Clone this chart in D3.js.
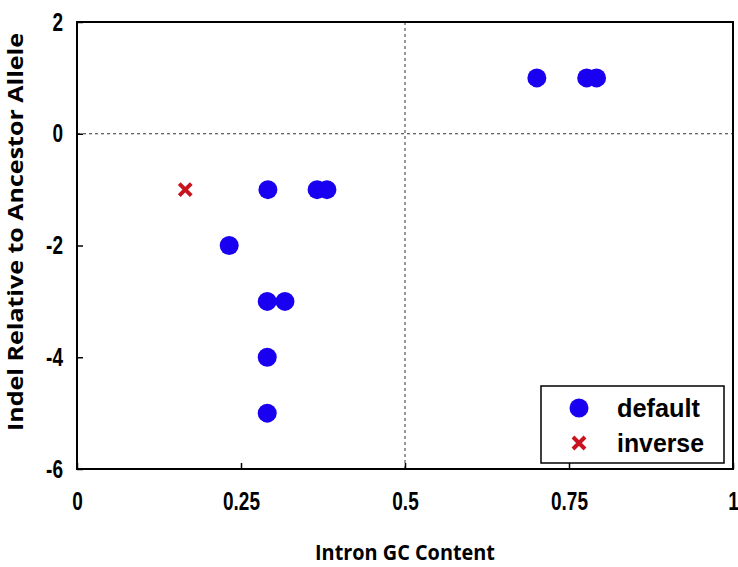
<!DOCTYPE html>
<html>
<head>
  <meta charset="utf-8">
  <style>
    body { margin: 0; background: #fff; }
    .tick text { font-family: "Liberation Sans", Arial, sans-serif; font-weight: bold; font-size: 25px; }
    .title { font-family: "Open Sans", sans-serif; font-weight: bold; font-size: 22px; }
    .leg { font-family: "Liberation Sans", Arial, sans-serif; font-weight: bold; font-size: 26px; }
  </style>
</head>
<body>
  <script src="https://d3js.org/d3.v7.min.js"></script>
  <script>
    // Data
    var defaultX = [0.701, 0.777, 0.792, 0.291, 0.366, 0.381, 0.232, 0.29, 0.317, 0.29, 0.29];
    var defaultY = [1, 1, 1, -1, -1, -1, -2, -3, -3, -4, -5];
    var inverseX = [0.165];
    var inverseY = [-1];
    var xTicks = [0, 0.25, 0.5, 0.75, 1];
    var xTickLabels = ["0", "0.25", "0.5", "0.75", "1"];
    var yTicks = [-6, -4, -2, 0, 2];
    var yTickLabels = ["-6", "-4", "-2", "0", "2"];

    var W = 738, H = 567;
    var margin = { top: 22, right: 5, bottom: 98, left: 77 },
      width = W - margin.left - margin.right,
      height = H - margin.top - margin.bottom;
    var squeeze = 0.76; // narrow look of the tick labels

    var svg = d3.select("body").append("svg")
      .attr("width", W).attr("height", H);
    var g = svg.append("g")
      .attr("transform", "translate(" + margin.left + "," + margin.top + ")");

    var x = d3.scaleLinear().domain([0, 1]).range([0, width]);
    var y = d3.scaleLinear().domain([-6, 2]).range([height, 0]);

    // reference lines
    g.append("line")
      .attr("x1", x(0)).attr("x2", x(1)).attr("y1", y(0)).attr("y2", y(0))
      .attr("stroke", "#333").attr("stroke-dasharray", "3,3");
    g.append("line")
      .attr("x1", x(0.5)).attr("x2", x(0.5)).attr("y1", y(-6)).attr("y2", y(2))
      .attr("stroke", "#333").attr("stroke-dasharray", "3,3");

    // axes with inward ticks
    var xAxis = g.append("g")
      .attr("transform", "translate(0," + height + ")")
      .call(d3.axisBottom(x).tickValues(xTicks)
        .tickFormat(function (d, i) { return xTickLabels[i]; })
        .tickSizeInner(-6).tickSizeOuter(0).tickPadding(23));
    var yAxis = g.append("g")
      .call(d3.axisLeft(y).tickValues(yTicks)
        .tickFormat(function (d, i) { return yTickLabels[i]; })
        .tickSizeInner(-6).tickSizeOuter(0).tickPadding(14));
    [xAxis, yAxis].forEach(function (a) {
      a.select(".domain").remove();
      a.selectAll(".tick line").attr("stroke", "#000").attr("stroke-width", 1.5);
      a.selectAll(".tick text").attr("fill", "#000");
    });
    xAxis.selectAll(".tick text").attr("transform", "scale(" + squeeze + ",1)");
    yAxis.selectAll(".tick text")
      .attr("x", -14 / squeeze)
      .attr("transform", "scale(" + squeeze + ",1)");

    // frame
    g.append("rect")
      .attr("width", width).attr("height", height)
      .attr("fill", "none").attr("stroke", "#000").attr("stroke-width", 2);

    // points
    var pts = defaultX.map(function (d, i) { return { x: d, y: defaultY[i] }; });
    g.selectAll(".dot").data(pts).enter().append("circle")
      .attr("class", "dot")
      .attr("cx", function (d) { return x(d.x); })
      .attr("cy", function (d) { return y(d.y); })
      .attr("r", 9.5)
      .attr("fill", "#1a00f0");

    var inv = inverseX.map(function (d, i) { return { x: d, y: inverseY[i] }; });
    g.selectAll(".cross").data(inv).enter().append("path")
      .attr("class", "cross")
      .attr("transform", function (d) { return "translate(" + x(d.x) + "," + y(d.y) + ")"; })
      .attr("d", "M-6,-6L6,6M-6,6L6,-6")
      .attr("stroke", "#c8141e").attr("stroke-width", 4);

    // legend
    var lg = svg.append("g").attr("transform", "translate(541,386)");
    lg.append("rect").attr("width", 183).attr("height", 77)
      .attr("fill", "#fff").attr("stroke", "#000").attr("stroke-width", 1.5);
    lg.append("circle").attr("cx", 38).attr("cy", 22).attr("r", 9.5).attr("fill", "#1a00f0");
    lg.append("path").attr("transform", "translate(38,57)")
      .attr("d", "M-6,-6L6,6M-6,6L6,-6").attr("stroke", "#c8141e").attr("stroke-width", 4);
    lg.append("text").attr("class", "leg").attr("x", 76).attr("y", 31)
      .attr("textLength", 83).attr("lengthAdjust", "spacingAndGlyphs").text("default");
    lg.append("text").attr("class", "leg").attr("x", 76).attr("y", 66)
      .attr("textLength", 87).attr("lengthAdjust", "spacingAndGlyphs").text("inverse");

    // axis titles
    svg.append("text").attr("class", "title")
      .attr("x", margin.left + x(0.5)).attr("y", 560)
      .attr("text-anchor", "middle")
      .attr("textLength", 180).attr("lengthAdjust", "spacingAndGlyphs")
      .text("Intron GC Content");
    svg.append("text").attr("class", "title")
      .attr("transform", "translate(23,232) rotate(-90)")
      .attr("text-anchor", "middle")
      .attr("textLength", 398).attr("lengthAdjust", "spacingAndGlyphs")
      .text("Indel Relative to Ancestor Allele");
  </script>
</body>
</html>
